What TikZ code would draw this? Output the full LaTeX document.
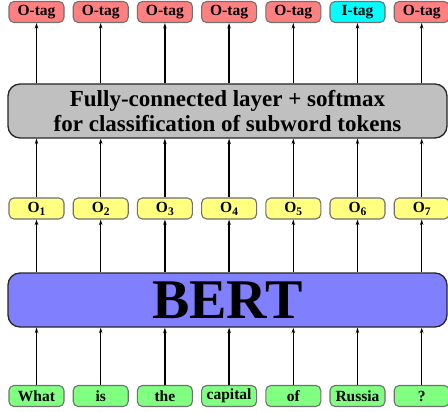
\documentclass[tikz,border=0pt]{standalone}
\usepackage{fontspec}
\setmainfont{Liberation Serif}
\usetikzlibrary{arrows.meta}
\definecolor{tagred}{HTML}{FF8080}
\definecolor{tagcyan}{HTML}{00FFFF}
\definecolor{oyellow}{HTML}{FFFF80}
\definecolor{wgreen}{HTML}{80FF80}
\definecolor{fcgray}{HTML}{C0C0C0}
\definecolor{bertblue}{HTML}{8080FF}
\definecolor{edgegray}{HTML}{707070}
\newcommand{\osub}[1]{O{\fontsize{11.5}{11.5}\selectfont\raisebox{-3pt}{#1}}}
\begin{document}
\begin{tikzpicture}[x=1pt,y=-1pt,
  smallbox/.style={draw=edgegray, line width=1.1pt, rounded corners=5pt,
    minimum width=55pt, minimum height=21pt, inner sep=0pt,
    font=\bfseries\fontsize{15.5}{17}\selectfont},
  tagbox/.style={smallbox, fill=tagred},
  itagbox/.style={smallbox, fill=tagcyan},
  obox/.style={smallbox, fill=oyellow},
  wbox/.style={smallbox, fill=wgreen},
  bigbox/.style={draw=black!85, line width=1.3pt, rounded corners=12pt,
    minimum width=439pt, minimum height=54pt, inner sep=0pt, align=center},
  arr/.style={-{Stealth[length=5.5pt,width=3.5pt]}, line width=1.4pt}]
\useasboundingbox (0,0) rectangle (448,412);
\clip (0,0) rectangle (448,412);
\node[bigbox, fill=fcgray, font=\bfseries\fontsize{23}{25.5}\selectfont] (fc) at (227.5,111)
  {Fully-connected layer + softmax\\for classification of subword tokens};
\node[bigbox, fill=bertblue, font=\bfseries\fontsize{56}{58}\selectfont] (bert) at (227.5,300) {BERT};
\foreach \i/\t/\w [count=\k from 0] in {1/O-tag/What,2/O-tag/is,3/O-tag/the,4/O-tag/capital,5/O-tag/of,6/I-tag/Russia,7/O-tag/?} {
  \pgfmathsetmacro{\cx}{36.5+64.2*\k}
  \ifnum\i=6
    \node[itagbox] (t\i) at (\cx,12) {\t};
  \else
    \node[tagbox] (t\i) at (\cx,12) {\t};
  \fi
  \node[obox] (o\i) at (\cx,208.5) {\osub{\i}};
  \node[wbox] (w\i) at (\cx,396) {\w};
  \draw[arr] (t\i.south |- fc.north) -- (t\i.south);
  \draw[arr] (o\i.north) -- (o\i.north |- fc.south);
  \draw[arr] (o\i.south |- bert.north) -- (o\i.south);
  \draw[arr] (w\i.north) -- (w\i.north |- bert.south);
}
\end{tikzpicture}
\end{document}
